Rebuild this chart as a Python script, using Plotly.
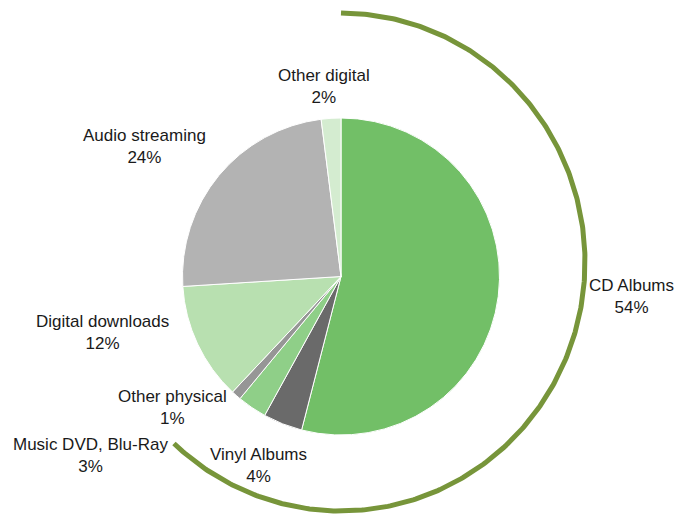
import numpy as np
import plotly.graph_objects as go

# ---- data ----
categories = ["CD Albums", "Vinyl Albums", "Music DVD, Blu-Ray", "Other physical",
              "Digital downloads", "Audio streaming", "Other digital"]
shares = [54, 4, 3, 1, 12, 24, 2]
physical = ["CD Albums", "Vinyl Albums", "Music DVD, Blu-Ray", "Other physical"]

# ---- styles ----
colors = ["#72bf67", "#6a6a6a", "#8fcf88", "#969696", "#b8e0b0", "#b3b3b3", "#d4ecd0"]
arc_color = "#77953a"
FONT = "Liberation Sans, Arial, sans-serif"
W, H = 677, 514

# pie geometry (pixels)
pcx, pcy, pr = 341, 276.5, 158.5
# label positions (pixel centres)
label_pos = {
    "CD Albums": (631, 296),
    "Vinyl Albums": (258, 465),
    "Music DVD, Blu-Ray": (90, 455),
    "Other physical": (172, 407),
    "Digital downloads": (102, 332),
    "Audio streaming": (144, 146),
    "Other digital": (324, 86),
}

fig = go.Figure()

fig.add_trace(go.Pie(
    labels=categories, values=shares, sort=False, direction="clockwise", rotation=0,
    marker=dict(colors=colors, line=dict(color="white", width=1)),
    textinfo="none", hoverinfo="label+percent", showlegend=False,
    domain=dict(x=[(pcx - pr) / W, (pcx + pr) / W],
                y=[(H - pcy - pr) / H, (H - pcy + pr) / H]),
))

# outer arc spanning the physical share
total = sum(shares)
phys_total = sum(v for c, v in zip(categories, shares) if c in physical)
end_deg = phys_total / total * 360.0
th = np.radians(np.linspace(0, end_deg, 400))
acx, acy, arx, ary = 341, 262, 244, 249
fig.add_trace(go.Scatter(
    x=acx + arx * np.sin(th), y=acy - ary * np.cos(th),
    mode="lines", line=dict(color=arc_color, width=5),
    hoverinfo="skip", showlegend=False,
))

for c, v in zip(categories, shares):
    x, y = label_pos[c]
    fig.add_annotation(x=x, y=y, xref="x", yref="y", text=f"{c}<br>{v / total * 100:.0f}%",
                       showarrow=False, align="center", xanchor="center", yanchor="middle",
                       font=dict(family=FONT, size=17, color="#1a1a1a"))

fig.update_layout(
    width=W, height=H, margin=dict(l=0, r=0, t=0, b=0),
    paper_bgcolor="white", plot_bgcolor="white",
    xaxis=dict(range=[0, W], visible=False, fixedrange=True),
    yaxis=dict(range=[H, 0], visible=False, fixedrange=True),
    font=dict(family=FONT),
)

fig.write_html("out.html")
